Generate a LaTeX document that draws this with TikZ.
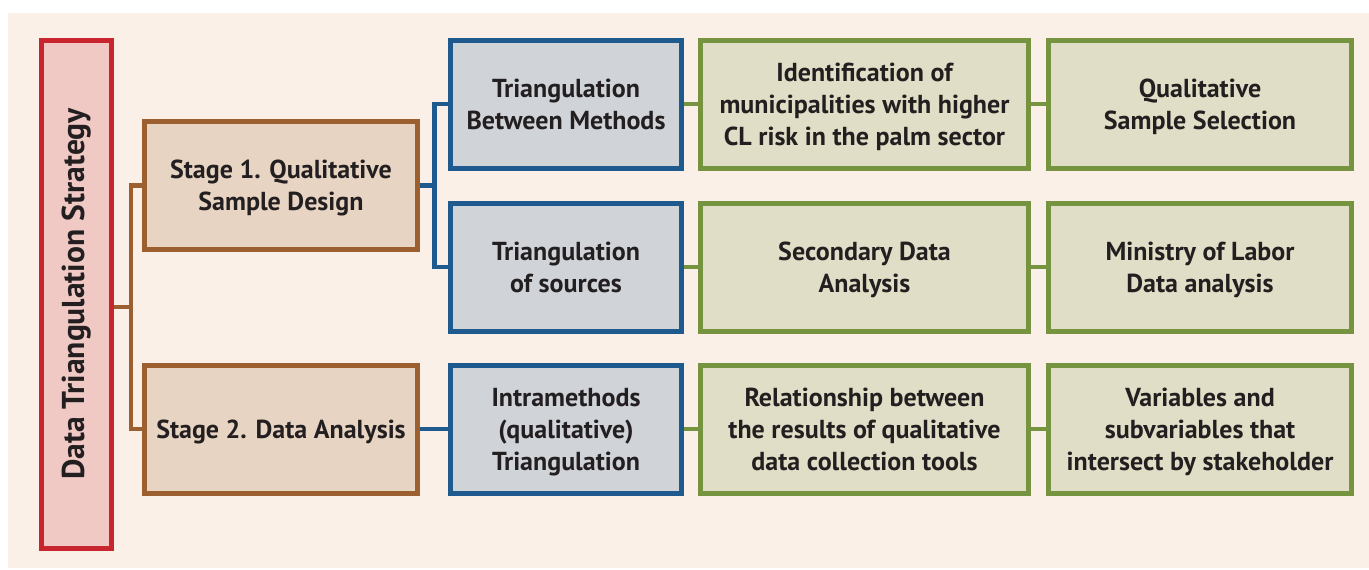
\documentclass[tikz,border=0pt]{standalone}
\usepackage{fontspec}
\setmainfont{PT Sans}
\usetikzlibrary{positioning,calc}

\definecolor{bgcream}{HTML}{FBF0E8}
\definecolor{inktext}{HTML}{231F20}
\definecolor{stratred}{HTML}{C9252F}
\definecolor{stratfill}{HTML}{F0C9C4}
\definecolor{stagebrown}{HTML}{9C5F2F}
\definecolor{stagefill}{HTML}{E8D4C3}
\definecolor{methodblue}{HTML}{1F5A8E}
\definecolor{methodfill}{HTML}{D0D3D8}
\definecolor{taskgreen}{HTML}{769440}
\definecolor{taskfill}{HTML}{E0DEC6}

\begin{document}
\begin{tikzpicture}[
    node distance=7pt,
    box/.style={rectangle, draw, line width=2.5pt, minimum height=64pt, inner sep=2pt,
        align=center, text=inktext, font=\bfseries\fontsize{13}{16}\selectfont,
        text depth=-2pt},
    strategy/.style={box, draw=stratred, fill=stratfill, minimum width=35pt, minimum height=254pt,
        font=\bfseries\fontsize{15.8}{19}\selectfont, text depth=},
    stagebox/.style={box, draw=stagebrown, fill=stagefill, minimum width=136.5pt},
    methodbox/.style={box, draw=methodblue, fill=methodfill, minimum width=115.5pt},
    taskbox/.style={box, draw=taskgreen, fill=taskfill, minimum width=164pt},
    outcomebox/.style={box, draw=taskgreen, fill=taskfill, minimum width=151.5pt},
    link/.style={line width=2.2pt}
]
\useasboundingbox (0,0) rectangle (684.5pt,-284.5pt);
\fill[bgcream] (4pt,-6.5pt) rectangle (684.5pt,-284pt);

% triangulation types
\node[methodbox] (between) at (283pt,-52pt) {Triangulation\\Between Methods};
\node[methodbox, below=15pt of between] (sources) {Triangulation\\of sources};
\node[methodbox, below=14.5pt of sources] (intra) {Intramethods\\(qualitative)\\Triangulation};

% what each one does
\node[taskbox, right=of between] (municip) {Identification of\\municipalities with higher\\CL risk in the palm sector};
\node[outcomebox, right=7.5pt of municip] (selection) {Qualitative\\Sample Selection};
\node[taskbox, right=of sources] (secondary) {Secondary Data\\Analysis};
\node[outcomebox, right=7.5pt of secondary] (ministry) {Ministry of Labor\\Data analysis};
\node[taskbox, right=of intra] (relation) {Relationship between\\the results of qualitative\\data collection tools};
\node[outcomebox, right=7.5pt of relation] (variables) {Variables and\\subvariables that\\intersect by stakeholder};

% stages
\node[stagebox, left=14pt of {$(between.west)!0.5!(sources.west)$}] (stage1) {Stage 1. Qualitative\\Sample Design};
\node[stagebox, left=14pt of intra] (stage2) {Stage 2. Data Analysis};

\node[strategy, anchor=north east] (strategy) at ([xshift=-14pt] stage1.west |- between.north)
    {\rotatebox{90}{Data Triangulation Strategy}};

% brackets
\coordinate (fork) at ($(stage1.west)!0.5!(stage2.west) + (-5.5pt,0)$);
\coordinate (split) at ($(between.west)!0.5!(sources.west) + (-6.75pt,0)$);

\draw[link, stagebrown] (strategy.east |- fork) -- (fork);
\draw[link, stagebrown] (stage1.west) -| (fork) |- (stage2.west);

\draw[link, methodblue] (stage1.east) -- (split);
\draw[link, methodblue] (between.west) -| (split) |- (sources.west);
\draw[link, methodblue] (stage2.east) -- (intra.west);

\draw[link, taskgreen] (between.east) -- (municip.west);
\draw[link, taskgreen] (municip.east) -- (selection.west);
\draw[link, taskgreen] (sources.east) -- (secondary.west);
\draw[link, taskgreen] (secondary.east) -- (ministry.west);
\draw[link, taskgreen] (intra.east) -- (relation.west);
\draw[link, taskgreen] (relation.east) -- (variables.west);
\end{tikzpicture}
\end{document}
